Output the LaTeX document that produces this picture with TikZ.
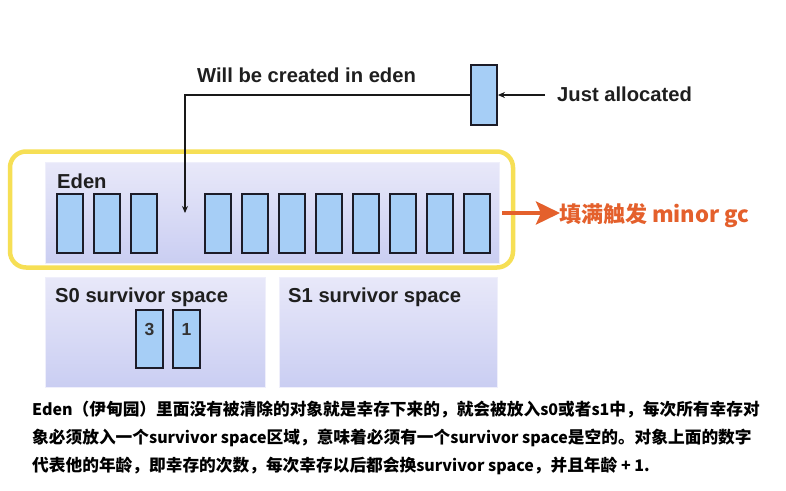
\documentclass[tikz,border=0pt]{standalone}
\usepackage{fontspec}
\setmainfont{Liberation Sans}
\newfontfamily\cjk{Noto Sans CJK SC}
\usetikzlibrary{arrows.meta}
\definecolor{cellblue}{HTML}{A6CEF6}
\definecolor{cellline}{HTML}{1C1C28}
\definecolor{regtop}{HTML}{E8E8F9}
\definecolor{regbot}{HTML}{CACEF2}
\definecolor{hiyellow}{HTML}{F6DF55}
\definecolor{gcorange}{HTML}{E4602C}
\newcommand\latn[1]{{\fontsize{16}{20}\selectfont #1}}
\tikzset{
  cell/.style={draw=cellline, fill=cellblue, line width=1.8pt, minimum width=26pt, minimum height=59pt, inner sep=0pt},
  region/.style={draw=regtop!70!white, line width=0.6pt, top color=regtop, bottom color=regbot, inner sep=0pt},
  lbl/.style={font=\fontsize{20.2}{23}\selectfont\bfseries, text=black!88, inner sep=0pt},
  num/.style={font=\fontsize{17.5}{20}\selectfont\bfseries, text=black!80, inner sep=0pt},
  note/.style={font=\cjk\bfseries\fontsize{16.7}{20}\selectfont, inner sep=0pt, anchor=base west},
  conn/.style={draw=black!90, line width=1.8pt, -{Stealth[length=7pt,width=6pt]}}
}
\begin{document}
\begin{tikzpicture}[x=1pt,y=-1pt]
\useasboundingbox (0,0) rectangle (786,490);
\fill[white] (0,0) rectangle (786,490);
% regions
\node[region, minimum width=454pt, minimum height=101pt] (eden) at (272,212.5) {};
\node[region, minimum width=220pt, minimum height=110pt] (s0) at (155,332) {};
\node[region, minimum width=218pt, minimum height=110pt] (s1) at (388,332) {};
% labels
\node[lbl, anchor=base west] (edenlbl) at (57,188) {Eden};
\node[lbl, anchor=base west] (s0lbl) at (55,302) {S0 survivor space};
\node[lbl, anchor=base west] (s1lbl) at (288,302) {S1 survivor space};
% eden cells
\node[cell] (e1) at (70,223.5) {};
\node[cell] (e2) at (107,223.5) {};
\node[cell] (e3) at (144,223.5) {};
\foreach \i in {0,...,7}{
  \node[cell] (r\i) at (218+37*\i,223.5) {};
}
% survivor cells
\node[cell, minimum width=27pt, minimum height=58pt] (sa) at (149.5,339) {};
\node[cell, minimum width=27pt, minimum height=58pt] (sb) at (186.5,339) {};
\node[num, anchor=base] (na) at (149.5,335) {3};
\node[num, anchor=base] (nb) at (186.5,335) {1};
% yellow highlight
\node[draw=hiyellow, line width=4.5pt, rounded corners=16pt, minimum width=503pt, minimum height=116pt, inner sep=0pt] (hl) at (261.5,209.5) {};
% just allocated
\node[cell, minimum width=26pt, minimum height=60pt] (ja) at (484,95) {};
\node[lbl, anchor=base west] (jatxt) at (557,101) {Just allocated};
\node[lbl, anchor=base west] (wbc) at (197,82) {Will be created in eden};
\coordinate (drop) at (185,213);
\draw[conn] (ja.west) -| (drop);
\draw[conn] ([xshift=-12pt]jatxt.west |- ja.east) -- (ja.east);
% orange arrow
\node[font=\cjk\bfseries\fontsize{22}{25}\selectfont, text=gcorange, inner sep=0pt, anchor=base west] (gc) at (559,222) {填满触发 minor gc};
\coordinate (gcstart) at (502,213);
\draw[draw=gcorange, line width=4pt, -{Stealth[length=24pt,width=23pt,inset=5pt]}] (gcstart) -- ([xshift=1pt]gcstart -| gc.west);
% note
\node[note] (l1) at (32,415) {\latn{Eden}（伊甸园）里面没有被清除的对象就是幸存下来的，就会被放入\latn{s0}或者\latn{s1}中，每次所有幸存对};
\node[note] (l2) at (32,443) {象必须放入一个\latn{survivor space}区域，意味着必须有一个\latn{survivor space}是空的。对象上面的数字};
\node[note] (l3) at (32,471) {代表他的年龄，即幸存的次数，每次幸存以后都会换\latn{survivor space}，并且年龄\latn{ + 1.}};
\end{tikzpicture}
\end{document}
